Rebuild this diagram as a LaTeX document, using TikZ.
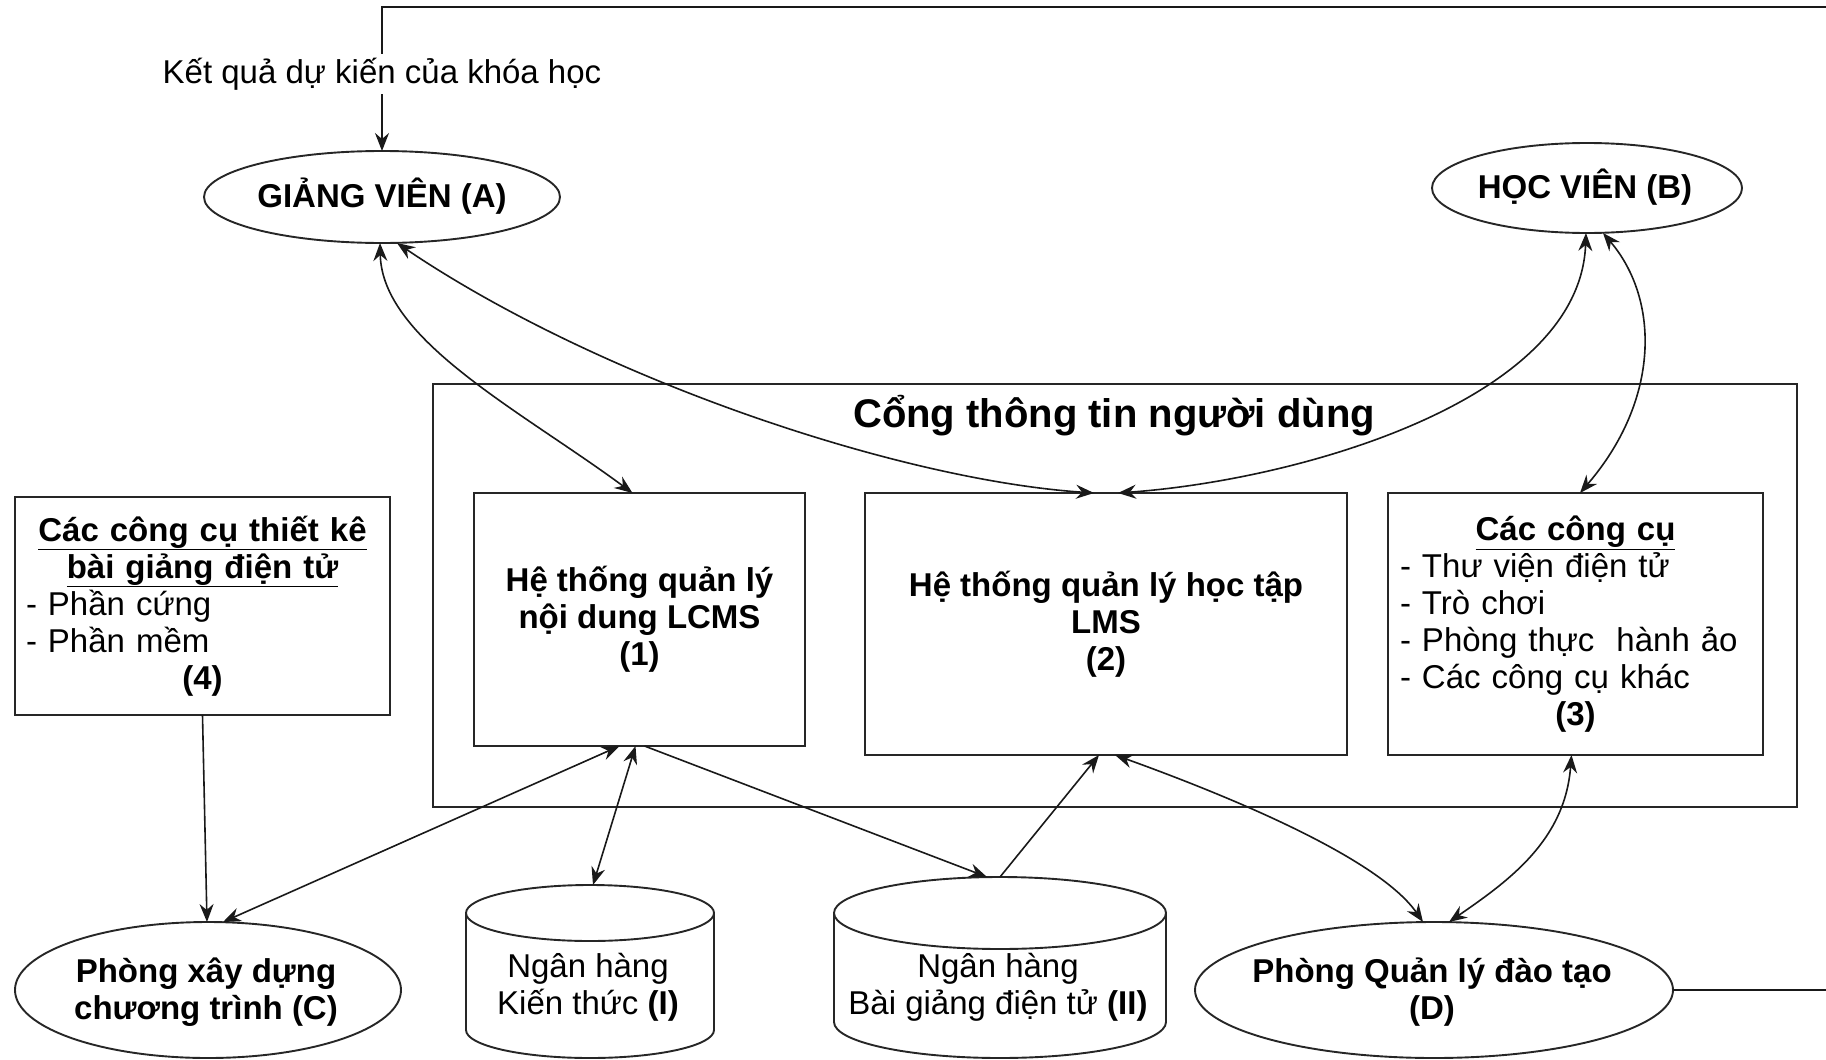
\documentclass[tikz,border=0pt]{standalone}
\usepackage{fontspec}
\setmainfont{Liberation Sans}
\usetikzlibrary{arrows.meta,shapes.geometric,calc}
\setlength{\parindent}{0pt}
\begin{document}
\begin{tikzpicture}[x=1pt,y=-1pt,
  every node/.style={font=\fontsize{33}{37}\selectfont, inner sep=0pt, outer sep=0pt},
  box/.style={draw=black!85, line width=1.9pt, rectangle},
  oval/.style={draw=black!85, line width=1.9pt, ellipse},
  cylline/.style={draw=black!85, line width=1.9pt},
  bold/.style={font=\fontsize{33}{37}\selectfont\bfseries},
  link/.style={line width=1.6pt, draw=black!90},
  oneway/.style={-{Stealth[length=18pt,width=14pt,inset=6pt]}},
  twoway/.style={{Stealth[length=18pt,width=14pt,inset=6pt]}-{Stealth[length=18pt,width=14pt,inset=6pt]}},
]
\useasboundingbox (0,0) rectangle (1826,1060);

% actors
\node[oval, minimum width=356pt, minimum height=92pt] (A) at (382,197) {};
\node[bold] (Atext) at (382,196) {GIẢNG VIÊN (A)};
\node[oval, minimum width=310pt, minimum height=90pt] (B) at (1587,188) {};
\node[bold] (Btext) at (1585,187) {HỌC VIÊN (B)};

% portal
\node[box, minimum width=1364pt, minimum height=423pt] (P) at (1115,595.5) {};
\node[font=\fontsize{40}{46}\selectfont\bfseries] (Ptitle) at (1114,416) {Cổng thông tin người dùng};

\node[box, minimum width=331pt, minimum height=253pt, align=center, bold] (b1) at (639.5,619.5)
  {Hệ thống quản lý\\nội dung LCMS\\(1)};
\node[box, minimum width=482pt, minimum height=262pt, align=center, bold] (b2) at (1106,624)
  {Hệ thống quản lý học tập\\LMS\\(2)};
\node[box, minimum width=375pt, minimum height=262pt, text width=351pt] (b3) at (1575.5,624)
  {{\centering\textbf{\underline{Các công cụ}}\par}
   \raggedright - Thư viện điện tử\\- Trò chơi\\- Phòng thực\ \ hành ảo\\- Các công cụ khác\par
   {\centering\textbf{(3)}\par}};

\node[box, minimum width=375pt, minimum height=218pt, text width=353pt] (b4) at (202.5,606)
  {{\centering\textbf{\underline{Các công cụ thiết kê}}\\\textbf{\underline{bài giảng điện tử}}\par}
   \raggedright - Phần cứng\\- Phần mềm\par
   {\centering\textbf{(4)}\par}};

% bottom
\node[oval, minimum width=386pt, minimum height=136pt] (C) at (208,990) {};
\node[bold, align=center] (Ctext) at (206,992) {Phòng xây dựng\\chương trình (C)};
\node[oval, minimum width=478pt, minimum height=136pt] (D) at (1434,990) {};
\node[bold, align=center] (Dtext) at (1432,992) {Phòng Quản lý đào tạo\\(D)};

% cylinders
\node[oval, minimum width=248pt, minimum height=56pt] (I) at (590,913) {};
\draw[cylline] (I.west) -- ++(0,117) arc[start angle=180, end angle=0, x radius=124, y radius=28] -- (I.east);
\node[align=center] (Itext) at (588,987) {Ngân hàng\\Kiến thức \textbf{(I)}};

\node[oval, minimum width=332pt, minimum height=72pt] (II) at (1000,913) {};
\draw[cylline] (II.west) -- ++(0,109) arc[start angle=180, end angle=0, x radius=166, y radius=36] -- (II.east);
\node[align=center] (IItext) at (998,987) {Ngân hàng\\Bài giảng điện tử \textbf{(II)}};

% connectors
\draw[link, twoway] ($(A.south)+(-2,0)$) .. controls (382,340) and (520,410) .. ($(b1.north)+(-7,0)$);
\draw[link, twoway] ($(A.south)+(15,0)$) .. controls (600,380) and (900,480) .. ($(b2.north)+(-12,0)$);
\draw[link, twoway] ($(B.south)+(-1,0)$) .. controls (1580,400) and (1300,480) .. ($(b2.north)+(12,0)$);
\draw[link, twoway] ($(B.south)+(16,0)$) .. controls (1660,300) and (1660,400) .. ($(b3.north)+(4.5,0)$);

\draw[link, oneway] (b4.south) -- ($(C.north)+(-1,0)$);
\draw[link, twoway] ($(b1.south)+(-20,0)$) -- ($(C.north)+(15,0)$);
\draw[link, twoway] ($(b1.south)+(-4,0)$) -- ($(I.north)+(3,0)$);
\draw[link, oneway] ($(b1.south)+(5,0)$) -- ($(II.north)+(-13,0)$);
\draw[link, oneway] (II.north) -- ($(b2.south)+(-7,0)$);
\draw[link, twoway] ($(b2.south)+(9,0)$) .. controls (1240,800) and (1380,860) .. ($(D.north)+(-11,0)$);
\draw[link, twoway] ($(b3.south)+(-4,0)$) .. controls (1565,840) and (1510,880) .. ($(D.north)+(15,0)$);

\coordinate (rc) at (1840,7);
\draw[link, oneway] (D.east) -| (rc) -| (A.north);
\node[fill=white, inner sep=4pt] (K) at (382,74) {Kết quả dự kiến của khóa học};
\end{tikzpicture}
\end{document}
